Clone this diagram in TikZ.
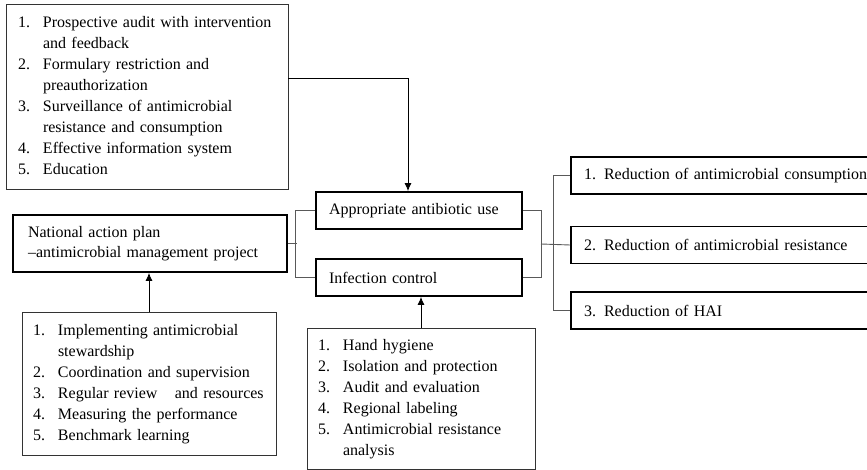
\documentclass[tikz,border=0pt]{standalone}
\usepackage{fontspec}
\setmainfont{Liberation Serif}
\usetikzlibrary{arrows.meta}

\tikzset{
  txt/.style={font=\fontsize{16}{21}\selectfont},
  thickbox/.style={txt, draw, line width=1.8pt, align=left, inner xsep=13pt, inner ysep=0pt},
  listbox/.style={txt, draw=black!80, line width=0.9pt, align=left, inner xsep=11pt, inner ysep=0pt},
  link/.style={draw=black!65, line width=0.9pt},
  arr/.style={draw=black, line width=0.9pt, -{Latex[length=8pt,width=7pt]}}
}
\newcommand{\numlist}[1]{\begin{tabular}{@{}p{25pt}@{}l@{}}#1\end{tabular}}

\begin{document}
\begin{tikzpicture}[x=1pt,y=1pt,yscale=-1,xscale=1]
\clip (0,0) rectangle (867,470);
\fill[white] (0,0) rectangle (867,470);

% Measures
\node[listbox, inner xsep=12pt, text width=258pt, minimum height=185pt] (audit) at (147,96.5) {\numlist{
1. & Prospective audit with intervention\\
   & and feedback\\
2. & Formulary restriction and\\
   & preauthorization\\
3. & Surveillance of antimicrobial\\
   & resistance and consumption\\
4. & Effective information system\\
5. & Education\\}};

% Two pillars
\node[thickbox, text width=180pt, minimum height=37pt] (appr) at (419,210.5) {Appropriate antibiotic use};
\node[thickbox, text width=180pt, minimum height=37pt] (infc) at (419,277.5) {Infection control};

% National plan
\node[thickbox, inner xsep=15pt, text width=244pt, minimum height=57pt, font=\fontsize{16}{20}\selectfont] (natl) at (150,243.5) {National action plan\\\textendash antimicrobial management project};

\node[listbox, text width=232pt, minimum height=143pt] (stew) at (149,383.5) {\numlist{
1. & Implementing antimicrobial\\
   & stewardship\\
2. & Coordination and supervision\\
3. & Regular review\hspace{12pt} and resources\\
4. & Measuring the performance\\
5. & Benchmark learning\\}};

\node[listbox, text width=206pt, minimum height=141pt] (hyg) at (421,398.5) {\numlist{
1. & Hand hygiene\\
2. & Isolation and protection\\
3. & Audit and evaluation\\
4. & Regional labeling\\
5. & Antimicrobial resistance\\
   & analysis\\}};

% Outcomes
\node[thickbox, text width=303pt, minimum height=37pt] (red1) at (735.5,175.5) {1. Reduction of antimicrobial consumption};
\node[thickbox, text width=303pt, minimum height=37pt] (red2) at (735.5,245) {2. Reduction of antimicrobial resistance};
\node[thickbox, text width=303pt, minimum height=37pt] (red3) at (735.5,310.5) {3. Reduction of HAI};

% Arrows
\draw[arr] ([yshift=-18.5pt]audit.east) -| ([xshift=-11pt]appr.north);
\draw[arr] (stew.north) -- (stew.north |- natl.south);
\draw[arr] (hyg.north) -- (hyg.north |- infc.south);

% Brackets
\draw[link] (appr.west) -- ++(-20,0) |- (infc.west);
\draw[link] (natl.east) -- ++(9,0);
\draw[link] (appr.east) -- ++(19,0) |- (infc.east);
\coordinate (rj) at (541,244);
\draw[link] (rj) -- (red2.west);
\draw[link] (red1.west) -- ++(-17,0) |- (red3.west);

\end{tikzpicture}
\end{document}
